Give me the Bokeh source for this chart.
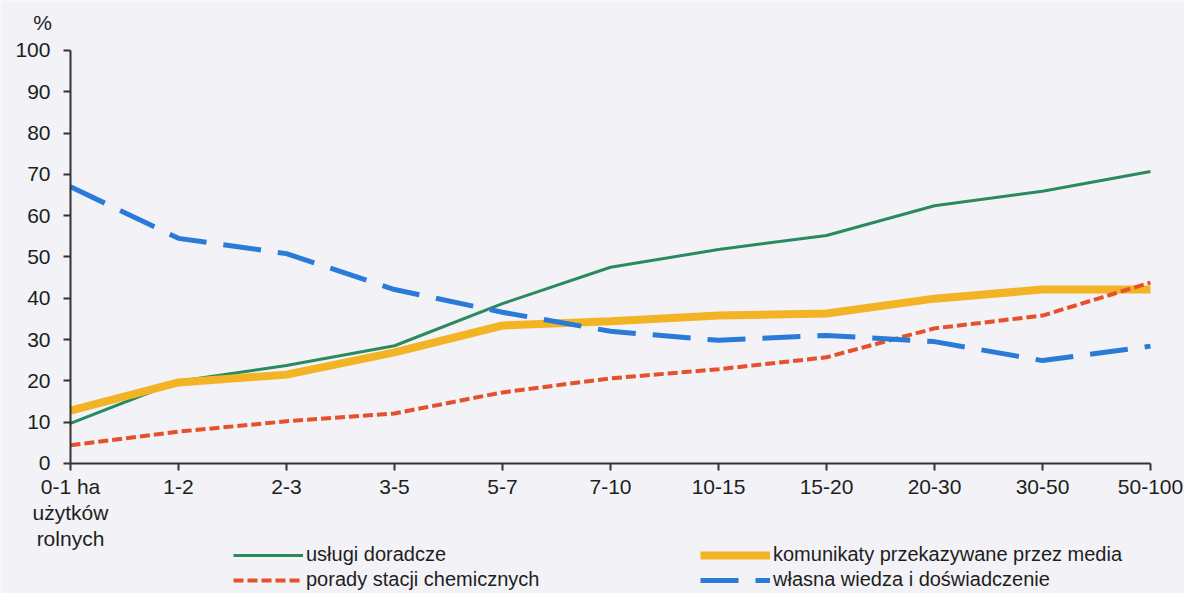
from bokeh.plotting import figure
from bokeh.models import Range1d, FixedTicker, Legend, LegendItem, Label
from bokeh.embed import file_html
from bokeh.resources import INLINE

categories = ["0-1 ha\nużytków\nrolnych", "1-2", "2-3", "3-5", "5-7", "7-10",
              "10-15", "15-20", "20-30", "30-50", "50-100"]
uslugi_doradcze = [9.7, 19.9, 23.7, 28.5, 38.7, 47.5, 51.8, 55.2, 62.4, 65.9, 70.7]
komunikaty_media = [12.8, 19.6, 21.5, 26.9, 33.4, 34.4, 35.8, 36.3, 39.9, 42.1, 42.1]
porady_stacji = [4.4, 7.7, 10.2, 12.1, 17.2, 20.6, 22.8, 25.7, 32.7, 35.8, 43.8]
wlasna_wiedza = [67.0, 54.5, 50.8, 42.1, 36.6, 32.0, 29.8, 31.0, 29.5, 24.9, 28.4]
y_ticks = [0, 10, 20, 30, 40, 50, 60, 70, 80, 90, 100]

x = list(range(len(categories)))

BG = "#f2f2f7"
FONT = "Liberation Sans"
TXT = "#1e1e1e"

# The frame fills the whole canvas; both axes are pinned at 0 so that the
# tick labels, the "%" unit and the legend sit inside the frame's margins.
p = figure(width=1184, height=593, output_backend="svg", toolbar_location=None,
           x_range=Range1d(-0.648, 10.315), y_range=Range1d(-31.5, 112.1),
           min_border_left=0, min_border_right=0, min_border_top=0, min_border_bottom=0)
p.title.visible = False
p.background_fill_color = BG
p.border_fill_color = BG
p.outline_line_color = None
p.xgrid.visible = False
p.ygrid.visible = False

for ax in (p.xaxis[0], p.yaxis[0]):
    ax.fixed_location = 0
    ax.axis_line_color = "#333333"
    ax.axis_line_width = 2
    ax.major_tick_line_color = "#333333"
    ax.major_tick_line_width = 2
    ax.major_tick_in = 0
    ax.major_tick_out = 7
    ax.minor_tick_line_color = None
    ax.major_label_text_font = FONT
    ax.major_label_text_font_size = "21px"
    ax.major_label_text_color = TXT

p.xaxis.ticker = FixedTicker(ticks=x)
p.xaxis.bounds = (0, len(categories) - 1)
p.xaxis.major_label_overrides = {i: c for i, c in zip(x, categories)}
p.xaxis.major_label_standoff = 5
p.xaxis.major_label_text_line_height = 1.12
p.yaxis.ticker = FixedTicker(ticks=y_ticks)
p.yaxis.bounds = (0, 100)
p.yaxis.major_label_standoff = 13

pct = Label(x=0, y=y_ticks[-1], x_offset=-28, y_offset=28, text="%",
            text_font=FONT, text_font_size="21px", text_color=TXT,
            text_align="center", text_baseline="middle")
p.add_layout(pct)

r_green = p.line(x, uslugi_doradcze, line_color="#2a8a5f", line_width=3)
r_orange = p.line(x, komunikaty_media, line_color="#f2b325", line_width=8)
r_red = p.line(x, porady_stacji, line_color="#e6502b", line_width=4, line_dash="10 4")
r_blue = p.line(x, wlasna_wiedza, line_color="#2a7ad8", line_width=5, line_dash="38 17")


def make_legend(items, xloc):
    return Legend(items=items, location=(xloc, 2), orientation="vertical",
                  glyph_width=70, glyph_height=18, label_height=18,
                  label_standoff=3, spacing=2, padding=0, margin=0,
                  border_line_color=None, background_fill_alpha=0,
                  label_text_font=FONT, label_text_font_size="20px",
                  label_text_color=TXT)


lg1 = make_legend([LegendItem(label="usługi doradcze", renderers=[r_green]),
                   LegendItem(label="porady stacji chemicznych", renderers=[r_red])], 233)
lg2 = make_legend([LegendItem(label="komunikaty przekazywane przez media", renderers=[r_orange]),
                   LegendItem(label="własna wiedza i doświadczenie", renderers=[r_blue])], 700)
p.add_layout(lg1, "center")
p.add_layout(lg2, "center")

open("out.html", "w").write(file_html(p, INLINE))
